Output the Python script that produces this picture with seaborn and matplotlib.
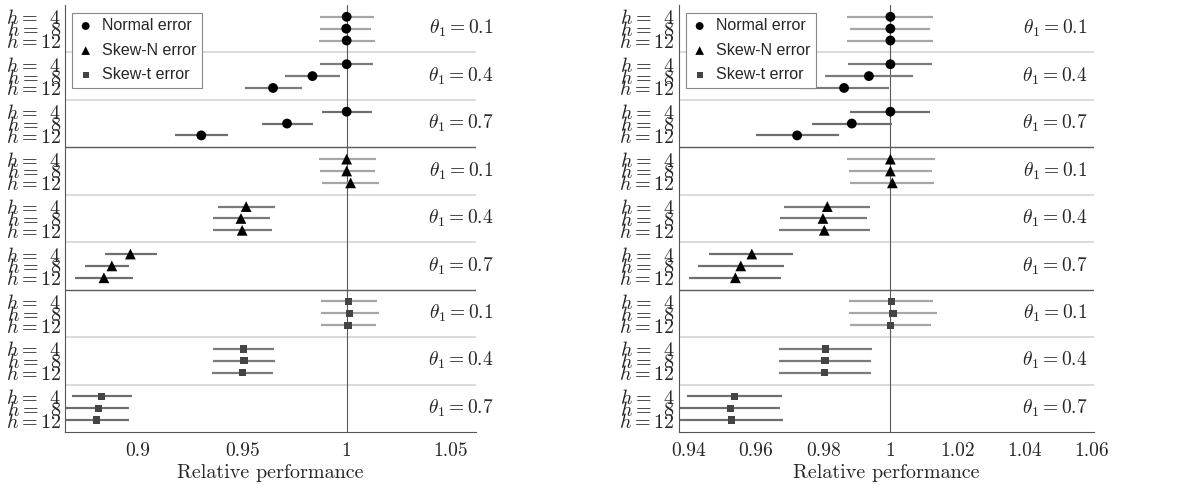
import numpy as np
import pandas as pd
import matplotlib
matplotlib.use('Agg')
import matplotlib.pyplot as plt
import seaborn as sns

errors = ['Normal error', 'Skew-N error', 'Skew-t error']
thetas = ['0.1', '0.4', '0.7']
horizons = ['4', '8', '12']

# rows: error type -> theta -> h (4, 8, 12)
left_est = [1.000, 0.9998, 1.000, 1.000, 0.9836, 0.9647, 1.000, 0.9714, 0.9303,
            1.000, 1.000, 1.0019, 0.9518, 0.9493, 0.9499, 0.8963, 0.8874, 0.8836,
            1.0010, 1.0014, 1.0006, 0.9504, 0.9507, 0.9502, 0.8826, 0.8809, 0.8802]
left_lo = [0.9874, 0.9874, 0.9866, 0.9874, 0.9705, 0.9512, 0.9884, 0.9593, 0.9179,
           0.9865, 0.9871, 0.9884, 0.9383, 0.9357, 0.9357, 0.8839, 0.8743, 0.8697,
           0.9876, 0.9879, 0.9876, 0.9357, 0.9360, 0.9356, 0.8681, 0.8640, 0.8635]
left_hi = [1.0132, 1.0118, 1.0134, 1.0128, 0.9970, 0.9786, 1.0123, 0.9839, 0.9432,
           1.0142, 1.0134, 1.0153, 0.9656, 0.9632, 0.9641, 0.9091, 0.8958, 0.8974,
           1.0144, 1.0155, 1.0139, 0.9652, 0.9656, 0.9649, 0.8971, 0.8958, 0.8957]

right_est = [1.000, 1.000, 1.000, 1.000, 0.9936, 0.9862, 1.000, 0.9885, 0.9722,
             1.000, 1.000, 1.0006, 0.9812, 0.9799, 0.9803, 0.9587, 0.9554, 0.9538,
             1.0003, 1.0008, 1.000, 0.9806, 0.9805, 0.9804, 0.9535, 0.9523, 0.9527]
right_lo = [0.9871, 0.9880, 0.9871, 0.9873, 0.9805, 0.9730, 0.9881, 0.9765, 0.9600,
            0.9870, 0.9877, 0.9881, 0.9684, 0.9671, 0.9668, 0.9460, 0.9426, 0.9401,
            0.9878, 0.9878, 0.9879, 0.9668, 0.9668, 0.9668, 0.9393, 0.9365, 0.9365]
right_hi = [1.0128, 1.0118, 1.0126, 1.0124, 1.0066, 0.9995, 1.0118, 1.0005, 0.9846,
            1.0132, 1.0123, 1.0131, 0.9940, 0.9929, 0.9939, 0.9711, 0.9682, 0.9675,
            1.0128, 1.0139, 1.0121, 0.9946, 0.9943, 0.9941, 0.9676, 0.9670, 0.9679]

left_ticks = [0.9, 0.95, 1.0, 1.05]
left_ticklabels = ['0.9', '0.95', '1', '1.05']
right_ticks = [0.94, 0.96, 0.98, 1.0, 1.02, 1.04, 1.06]
right_ticklabels = ['0.94', '0.96', '0.98', '1', '1.02', '1.04', '1.06']

sns.set_style('white')
plt.rcParams['font.family'] = ['cmr10', 'DejaVu Sans']
plt.rcParams['mathtext.fontset'] = 'cm'
plt.rcParams['axes.unicode_minus'] = False


def make_frame(est, lo, hi):
    rows = []
    for i in range(len(est)):
        g, k = divmod(i, 3)
        rows.append({'error': errors[g // 3], 'theta': thetas[g % 3],
                     'h': horizons[k], 'est': est[i], 'lo': lo[i], 'hi': hi[i],
                     'ypos': 4 * g + k + 1})
    return pd.DataFrame(rows)


marker_map = {'Normal error': 'o', 'Skew-N error': '^', 'Skew-t error': 's'}
color_map = {'Normal error': 'black', 'Skew-N error': 'black', 'Skew-t error': '#444444'}
size_map = {'Normal error': 50, 'Skew-N error': 60, 'Skew-t error': 28}
bar_grey = {'0.1': '#a6a6a6', '0.4': '#7a7a7a', '0.7': '#6e6e6e'}

fig = plt.figure(figsize=(11.84, 4.92), dpi=100)
ax1 = fig.add_axes([0.055, 0.122, 0.347, 0.868])
ax2 = fig.add_axes([0.5735, 0.122, 0.3505, 0.868])

panels = [(ax1, make_frame(left_est, left_lo, left_hi), (0.865, 1.062),
           left_ticks, left_ticklabels, 0.963),
          (ax2, make_frame(right_est, right_lo, right_hi), (0.937, 1.0607),
           right_ticks, right_ticklabels, 0.906)]

for ax, df, xlim, ticks, ticklabels, tx in panels:
    for g in range(1, 9):
        dark = g in (3, 6)
        ax.axhline(4 * g, color='#5a5a5a' if dark else '#d4d4d4',
                   lw=1.0 if dark else 1.2, zorder=1)
    ax.axvline(1.0, color='#5a5a5a', lw=0.8, zorder=1)

    for th, sub in df.groupby('theta'):
        ax.hlines(sub['ypos'], sub['lo'], sub['hi'], color=bar_grey[th],
                  lw=1.6, zorder=2)

    for err in errors:
        sub = df[df['error'] == err]
        sns.scatterplot(data=sub, x='est', y='ypos', marker=marker_map[err],
                        color=color_map[err], s=size_map[err], edgecolor='none',
                        label=err, ax=ax, zorder=3)

    ax.set_xlim(*xlim)
    ax.set_ylim(36, 0)
    ax.set_xticks(ticks)
    ax.set_xticklabels(ticklabels, fontsize=14)
    ax.set_yticks(df['ypos'])
    ax.set_yticklabels([r'$h =\enspace %s$' % h if len(h) == 1 else r'$h = %s$' % h
                        for h in df['h']], fontsize=14.5)
    ax.tick_params(axis='both', direction='in', length=4, width=0.7,
                   color='#555555', pad=3)
    ax.tick_params(axis='x', pad=7)
    ax.set_xlabel('Relative performance', fontsize=14.5, labelpad=3)
    ax.set_ylabel('')
    for side in ['top', 'right']:
        ax.spines[side].set_visible(False)
    for side in ['left', 'bottom']:
        ax.spines[side].set_color('#555555')
        ax.spines[side].set_linewidth(0.8)

    for g in range(9):
        ax.text(tx, 4 * g + 2, r'$\theta_1 = %s$' % thetas[g % 3],
                transform=ax.get_yaxis_transform(), ha='center', va='center',
                fontsize=14, clip_on=False)

    leg = ax.legend(loc='upper left', bbox_to_anchor=(0.017, 0.982), frameon=True,
                    fancybox=False, edgecolor='#888888', framealpha=1,
                    prop={'family': 'Liberation Sans', 'size': 11.5},
                    handlelength=1.0, handletextpad=0.55, borderpad=0.35,
                    labelspacing=0.6, borderaxespad=0, markerscale=0.8)
    leg.get_frame().set_linewidth(0.8)

fig.savefig('out.png', dpi=100)
